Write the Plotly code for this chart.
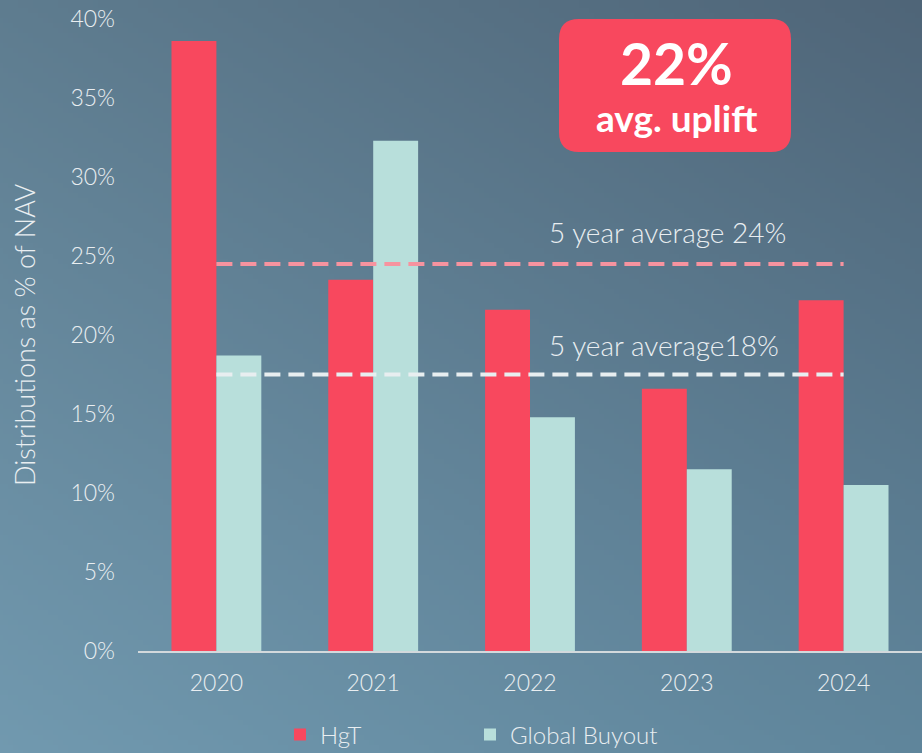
import zlib, struct, base64
import numpy as np
import plotly.graph_objects as go

# ---------------- data ----------------
years = ["2020", "2021", "2022", "2023", "2024"]
hgt = [38.6, 23.5, 21.6, 16.6, 22.2]
global_buyout = [18.7, 32.3, 14.8, 11.5, 10.5]
hgt_avg = 24.5
gb_avg = 17.5
hgt_avg_label = "5 year average 24%"
gb_avg_label = "5 year average18%"
y_ticks = [0, 5, 10, 15, 20, 25, 30, 35, 40]
y_tick_text = [f"{v}%" for v in y_ticks]
callout_big = "22%"
callout_small = "avg. uplift"

# ---------------- styling ----------------
W, H = 922, 780
VIEW_H = 753
RED = "#f8485e"
TEAL = "#b8dfdb"
TXT = "#e9eef1"
FONT = "Lato"
LIGHT = 300
PLOT_BOTTOM = 651
ml, mr, mt = 138, 0, 19
mb = H - PLOT_BOTTOM
pw, ph = W - ml - mr, H - mt - mb


def hexrgb(h):
    h = h.lstrip("#")
    return np.array([int(h[i:i + 2], 16) for i in (0, 2, 4)], dtype=float)


def gradient_uri(w=184, h=150):
    tl, tr = hexrgb("#5e7c8f"), hexrgb("#4f6578")
    bl, br = hexrgb("#7199af"), hexrgb("#5f859b")
    u = np.linspace(0, 1, w)[None, :, None]
    v = np.linspace(0, 1, h)[:, None, None]
    top = tl * (1 - u) + tr * u
    bot = bl * (1 - u) + br * u
    arr = (top * (1 - v) + bot * v).round().clip(0, 255).astype(np.uint8)
    raw = b"".join(b"\x00" + arr[i].tobytes() for i in range(h))

    def chunk(t, d):
        c = struct.pack(">I", len(d)) + t + d
        return c + struct.pack(">I", zlib.crc32(t + d) & 0xFFFFFFFF)

    png = (b"\x89PNG\r\n\x1a\n"
           + chunk(b"IHDR", struct.pack(">IIBBBBB", w, h, 8, 2, 0, 0, 0))
           + chunk(b"IDAT", zlib.compress(raw))
           + chunk(b"IEND", b""))
    return "data:image/png;base64," + base64.b64encode(png).decode()


def px2paper(x, y):
    return (x - ml) / pw, (PLOT_BOTTOM - y) / ph


def rounded_rect_path(x0, y0, x1, y1, r):
    def P(x, y):
        a, b = px2paper(x, y)
        return f"{a:.5f},{b:.5f}"
    return (f"M{P(x0 + r, y0)} L{P(x1 - r, y0)} Q{P(x1, y0)} {P(x1, y0 + r)} "
            f"L{P(x1, y1 - r)} Q{P(x1, y1)} {P(x1 - r, y1)} "
            f"L{P(x0 + r, y1)} Q{P(x0, y1)} {P(x0, y1 - r)} "
            f"L{P(x0, y0 + r)} Q{P(x0, y0)} {P(x0 + r, y0)} Z")


fig = go.Figure()
fig.add_trace(go.Bar(x=years, y=hgt, name="HgT", marker=dict(color=RED, line=dict(width=0))))
fig.add_trace(go.Bar(x=years, y=global_buyout, name="Global Buyout",
                     marker=dict(color=TEAL, line=dict(width=0))))
fig.add_trace(go.Scatter(x=years, y=[hgt_avg] * len(years), mode="lines", showlegend=False,
                         hoverinfo="skip",
                         line=dict(color="#f7939f", width=4, dash="16px,8px")))
fig.add_trace(go.Scatter(x=years, y=[gb_avg] * len(years), mode="lines", showlegend=False,
                         hoverinfo="skip",
                         line=dict(color="#e8eef0", width=4, dash="16px,8px")))


def ann(text, x, y, size, weight=LIGHT, color=TXT, angle=0, yref="paper", yval=None, yshift=0):
    px, py = px2paper(x, y)
    return dict(text=text, xref="paper", yref=yref, x=px, y=(py if yval is None else yval),
                xanchor="center", yanchor="middle", yshift=yshift, textangle=angle,
                showarrow=False, font=dict(family=FONT, size=size, color=color, weight=weight))


annotations = [
    ann(hgt_avg_label, 667, 0, 28, yref="y", yval=hgt_avg, yshift=32),
    ann(gb_avg_label, 664, 0, 28, yref="y", yval=gb_avg, yshift=30),
    ann(callout_big, 676, 63, 57, weight=700, color="white"),
    ann(callout_small, 676, 118, 37, weight=700, color="white"),
    ann("Distributions as % of NAV", 24, 335, 27, angle=-90),
]

fig.update_layout(
    width=W, height=H,
    margin=dict(l=ml, r=mr, t=mt, b=mb),
    paper_bgcolor="#5f7f93",
    plot_bgcolor="rgba(0,0,0,0)",
    barmode="group", bargap=0.427, bargroupgap=0,
    font=dict(family=FONT, color=TXT),
    images=[dict(source=gradient_uri(), xref="paper", yref="paper",
                 x=-ml / pw, y=1 + mt / ph, sizex=W / pw, sizey=VIEW_H / ph,
                 xanchor="left", yanchor="top", sizing="stretch", layer="below")],
    shapes=[dict(type="path", xref="paper", yref="paper",
                 path=rounded_rect_path(559, 19, 791, 152, 20),
                 fillcolor=RED, line=dict(width=0), layer="above")],
    annotations=annotations,
    xaxis=dict(showgrid=False, showline=True, linecolor="#d3d9dc", linewidth=2,
               ticks="", ticklabelstandoff=10, zeroline=False,
               tickfont=dict(family=FONT, size=23, color=TXT, weight=LIGHT)),
    yaxis=dict(range=[0, 40], showgrid=False, zeroline=False, showline=False,
               tickvals=y_ticks, ticktext=y_tick_text, ticks="",
               ticklabelstandoff=22,
               tickfont=dict(family=FONT, size=23, color=TXT, weight=LIGHT)),
    legend=dict(orientation="h", x=px2paper(280, 0)[0], xanchor="left",
                y=px2paper(0, 735)[1], yanchor="middle",
                entrywidth=145, entrywidthmode="pixels",
                font=dict(family=FONT, size=24, color=TXT, weight=LIGHT),
                bgcolor="rgba(0,0,0,0)", traceorder="normal"),
    showlegend=True,
)

fig.write_html("out.html", config={"displayModeBar": False},
               post_script="document.body.style.margin='0';"
                           "document.documentElement.style.overflow='hidden';"
                           "document.body.style.overflow='hidden';")
